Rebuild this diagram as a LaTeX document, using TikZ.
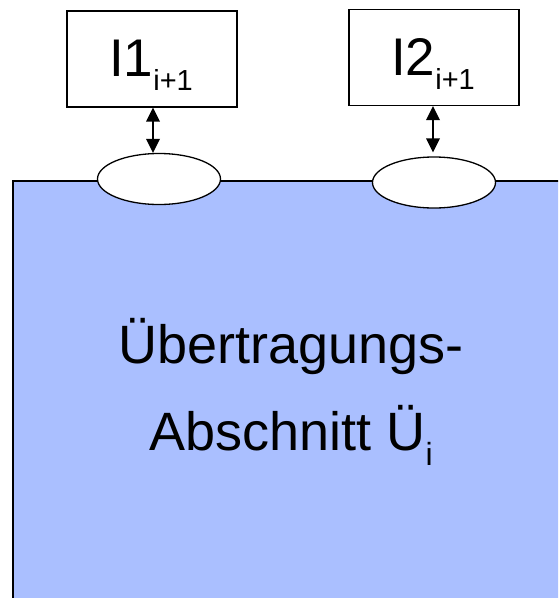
\documentclass[tikz,border=0pt]{standalone}
\usepackage{fontspec}
\setmainfont{Liberation Sans}
\usetikzlibrary{shapes.geometric}
\definecolor{areablue}{RGB}{170,191,255}
% lowered index set in a smaller size
\newcommand\lowidx[3]{\raisebox{-#1}{\fontsize{#2}{#2}\selectfont #3}}
\begin{document}
\begin{tikzpicture}[x=1pt,y=-1pt,
  ibox/.style={draw=black,line width=1.3pt,fill=white,minimum width=170pt,minimum height=96pt,inner sep=0pt},
  port/.style={ellipse,draw=black,line width=1.3pt,fill=white,minimum width=123pt,minimum height=51pt,inner sep=0pt},
  shaft/.style={line width=2pt},
  headfill/.style={fill=black},
  boxlabel/.style={anchor=base,inner sep=0pt,font=\fontsize{53}{53}\selectfont},
  biglabel/.style={anchor=base,inner sep=0pt,font=\fontsize{54}{54}\selectfont}]
\useasboundingbox (0,0) rectangle (558,598);
\clip (0,0) rectangle (558,598);
% transmission section, running past the right and bottom edges
\coordinate (areaNW) at (13,181);
\coordinate (areaSE) at (575,615);
\draw[fill=areablue,line width=1.3pt] (areaNW) rectangle (areaSE);
% interface boxes
\node[ibox] (i1) at (152,59) {};
\node[ibox] (i2) at (434,57.5) {};
% ports on the upper edge
\node[port] (p1) at (159,179) {};
\node[port] (p2) at (434,182.5) {};
% box labels
\node[boxlabel] (l1) at (151,76) {I1\lowidx{14pt}{29}{i+1}};
\node[boxlabel] (l2) at (433,75) {I2\lowidx{14pt}{29}{i+1}};
% double-headed links between boxes and ports
\coordinate (x1) at (153,0);
\coordinate (x2) at (433,0);
\coordinate (s1) at (i1.south -| x1);
\coordinate (e1) at (p1.north -| x1);
\coordinate (s2) at (i2.south -| x2);
\coordinate (e2q) at (p2.north -| x2);
\coordinate (e2) at ([yshift=4pt]e2q);
\draw[shaft] ([yshift=-10pt]s1) -- ([yshift=10pt]e1);
\fill[headfill] (s1) -- ++(-7,14) -- ++(14,0) -- cycle;
\fill[headfill] (e1) -- ++(-7,-14) -- ++(14,0) -- cycle;
\draw[shaft] ([yshift=-10pt]s2) -- ([yshift=10pt]e2);
\fill[headfill] (s2) -- ++(-7,14) -- ++(14,0) -- cycle;
\fill[headfill] (e2) -- ++(-7,-14) -- ++(14,0) -- cycle;
% section title
\node[biglabel] (t1) at (291,363) {Übertragungs-};
\node[biglabel] (t2) at (291,450) {Abschnitt Ü\lowidx{15pt}{32}{i}};
\end{tikzpicture}
\end{document}
